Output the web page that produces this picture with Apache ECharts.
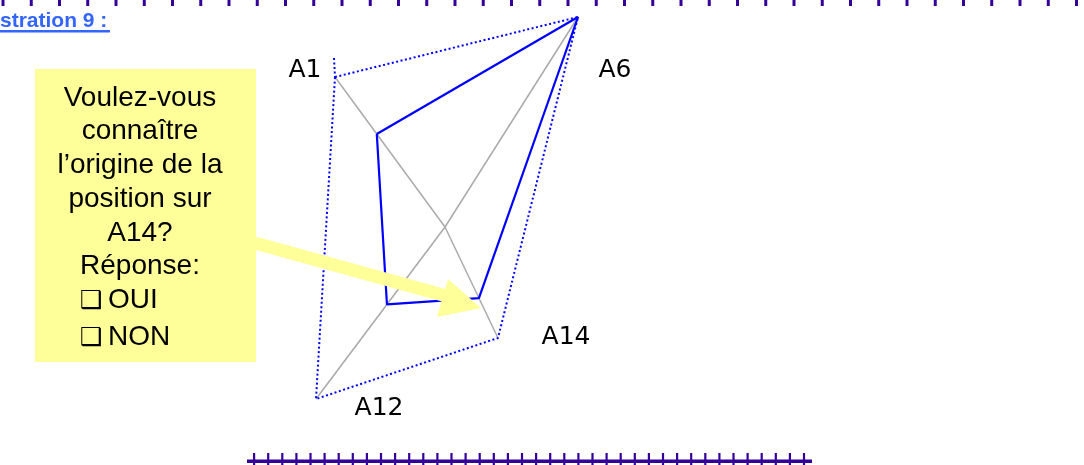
<!DOCTYPE html>
<html>
<head>
<meta charset="utf-8">
<script src="https://cdn.jsdelivr.net/npm/echarts@6/dist/echarts.min.js"></script>
<style>
html,body{margin:0;padding:0;background:#fff;}
#c{width:1084px;height:465px;}
</style>
</head>
<body>
<div id="c"></div>
<script>
// ---- data ----
const indicators = ['A1', 'A6', 'A14', 'A12'];
const values = [62, 100, 64, 45];
const maxValue = 100;
const title = 'stration 9 :';
const boxLines = ['Voulez-vous', 'connaître', 'l\u2019origine de la', 'position sur', 'A14?', 'Réponse:'];
const choices = ['OUI', 'NON'];

// ---- layout (perspective radar geometry, pixel space) ----
const center = [445, 227];
const axisEnds = [[335, 77], [578, 17], [498, 338], [316, 399]];
const labelPos = [[305, 70], [615, 70], [566, 337], [379, 408]];

function pointOn(i, v) {
  const f = v / maxValue;
  return [center[0] + f * (axisEnds[i][0] - center[0]), center[1] + f * (axisEnds[i][1] - center[1])];
}
const outer = axisEnds.map((e, i) => pointOn(i, maxValue));
outer.push(outer[0]);
const poly = values.map((v, i) => pointOn(i, v));
poly.push(poly[0]);
const spokes = axisEnds.map((e, i) => ({ coords: [center, pointOn(i, maxValue)] }));

const purple = '#330099';
const boxFont = '28px "Liberation Sans", Arial, sans-serif';
const graphics = [];
// top dashed border
for (let x = 3; x < 1084; x += 28.25) {
  graphics.push({ type: 'rect', shape: { x: x - 1.5, y: 0, width: 3, height: 6 }, style: { fill: purple }, silent: true });
}
// header
graphics.push({ type: 'text', style: { text: title, x: 0, y: 21, font: 'bold 21px "Liberation Sans", Arial, sans-serif', fill: '#3366FF', textVerticalAlign: 'middle' } });
graphics.push({ type: 'rect', shape: { x: 0, y: 30, width: 110, height: 2.5 }, style: { fill: '#3366FF' } });
// bottom ruler
graphics.push({ type: 'rect', shape: { x: 247, y: 459.5, width: 565, height: 3.5 }, style: { fill: purple } });
for (let k = 0; k < 40; k++) {
  const x = 254 + k * 14.1;
  graphics.push({ type: 'rect', shape: { x: x - 1, y: 453, width: 2.2, height: 12 }, style: { fill: purple } });
}
// callout box
graphics.push({ type: 'rect', shape: { x: 35, y: 69, width: 221, height: 293 }, style: { fill: '#FFFF99' }, z: 10 });
boxLines.forEach((t, i) => {
  graphics.push({ type: 'text', z: 11, style: { text: t, x: 140, y: 98 + i * 33.7, font: boxFont, fill: '#000', textAlign: 'center', textVerticalAlign: 'middle' } });
});
choices.forEach((t, i) => {
  const y = 300 + i * 37;
  graphics.push({ type: 'text', z: 11, style: { text: '\u2751', x: 80, y: y + 1, font: '25px "DejaVu Sans", sans-serif', fill: '#000', textVerticalAlign: 'middle' } });
  graphics.push({ type: 'text', z: 11, style: { text: t, x: 108, y: y, font: boxFont, fill: '#000', textVerticalAlign: 'middle' } });
});
// arrow
graphics.push({ type: 'line', z: 10, shape: { x1: 255, y1: 243, x2: 450, y2: 297 }, style: { stroke: '#FFFF99', lineWidth: 13 } });
graphics.push({ type: 'polygon', z: 10, shape: { points: [[448, 279], [437, 317], [481, 308]] }, style: { fill: '#FFFF99' } });
// axis names
indicators.forEach((n, i) => {
  graphics.push({ type: 'text', style: { text: n, x: labelPos[i][0], y: labelPos[i][1], font: '25px "DejaVu Sans", sans-serif', fill: '#000', textAlign: 'center', textVerticalAlign: 'middle' } });
});

const chart = echarts.init(document.getElementById('c'));
chart.setOption({
  animation: false,
  grid: { left: 0, right: 0, top: 0, bottom: 0 },
  xAxis: { type: 'value', min: 0, max: 1084, show: false },
  yAxis: { type: 'value', min: 0, max: 465, inverse: true, show: false },
  graphic: graphics,
  series: [
    { type: 'lines', coordinateSystem: 'cartesian2d', data: spokes, lineStyle: { color: '#AAAAAA', width: 1.5, opacity: 1 }, z: 1 },
    { type: 'line', data: outer, symbol: 'none', lineStyle: { color: '#0000FF', width: 2, type: [2, 2.5] }, z: 2 },
    { type: 'line', data: [[334, 58], outer[0]], symbol: 'none', lineStyle: { color: '#0000FF', width: 2, type: [2, 2.5] }, z: 2 },
    { type: 'line', data: poly, symbol: 'none', lineStyle: { color: '#0000FF', width: 2.2 }, z: 3 }
  ]
});
</script>
</body>
</html>
